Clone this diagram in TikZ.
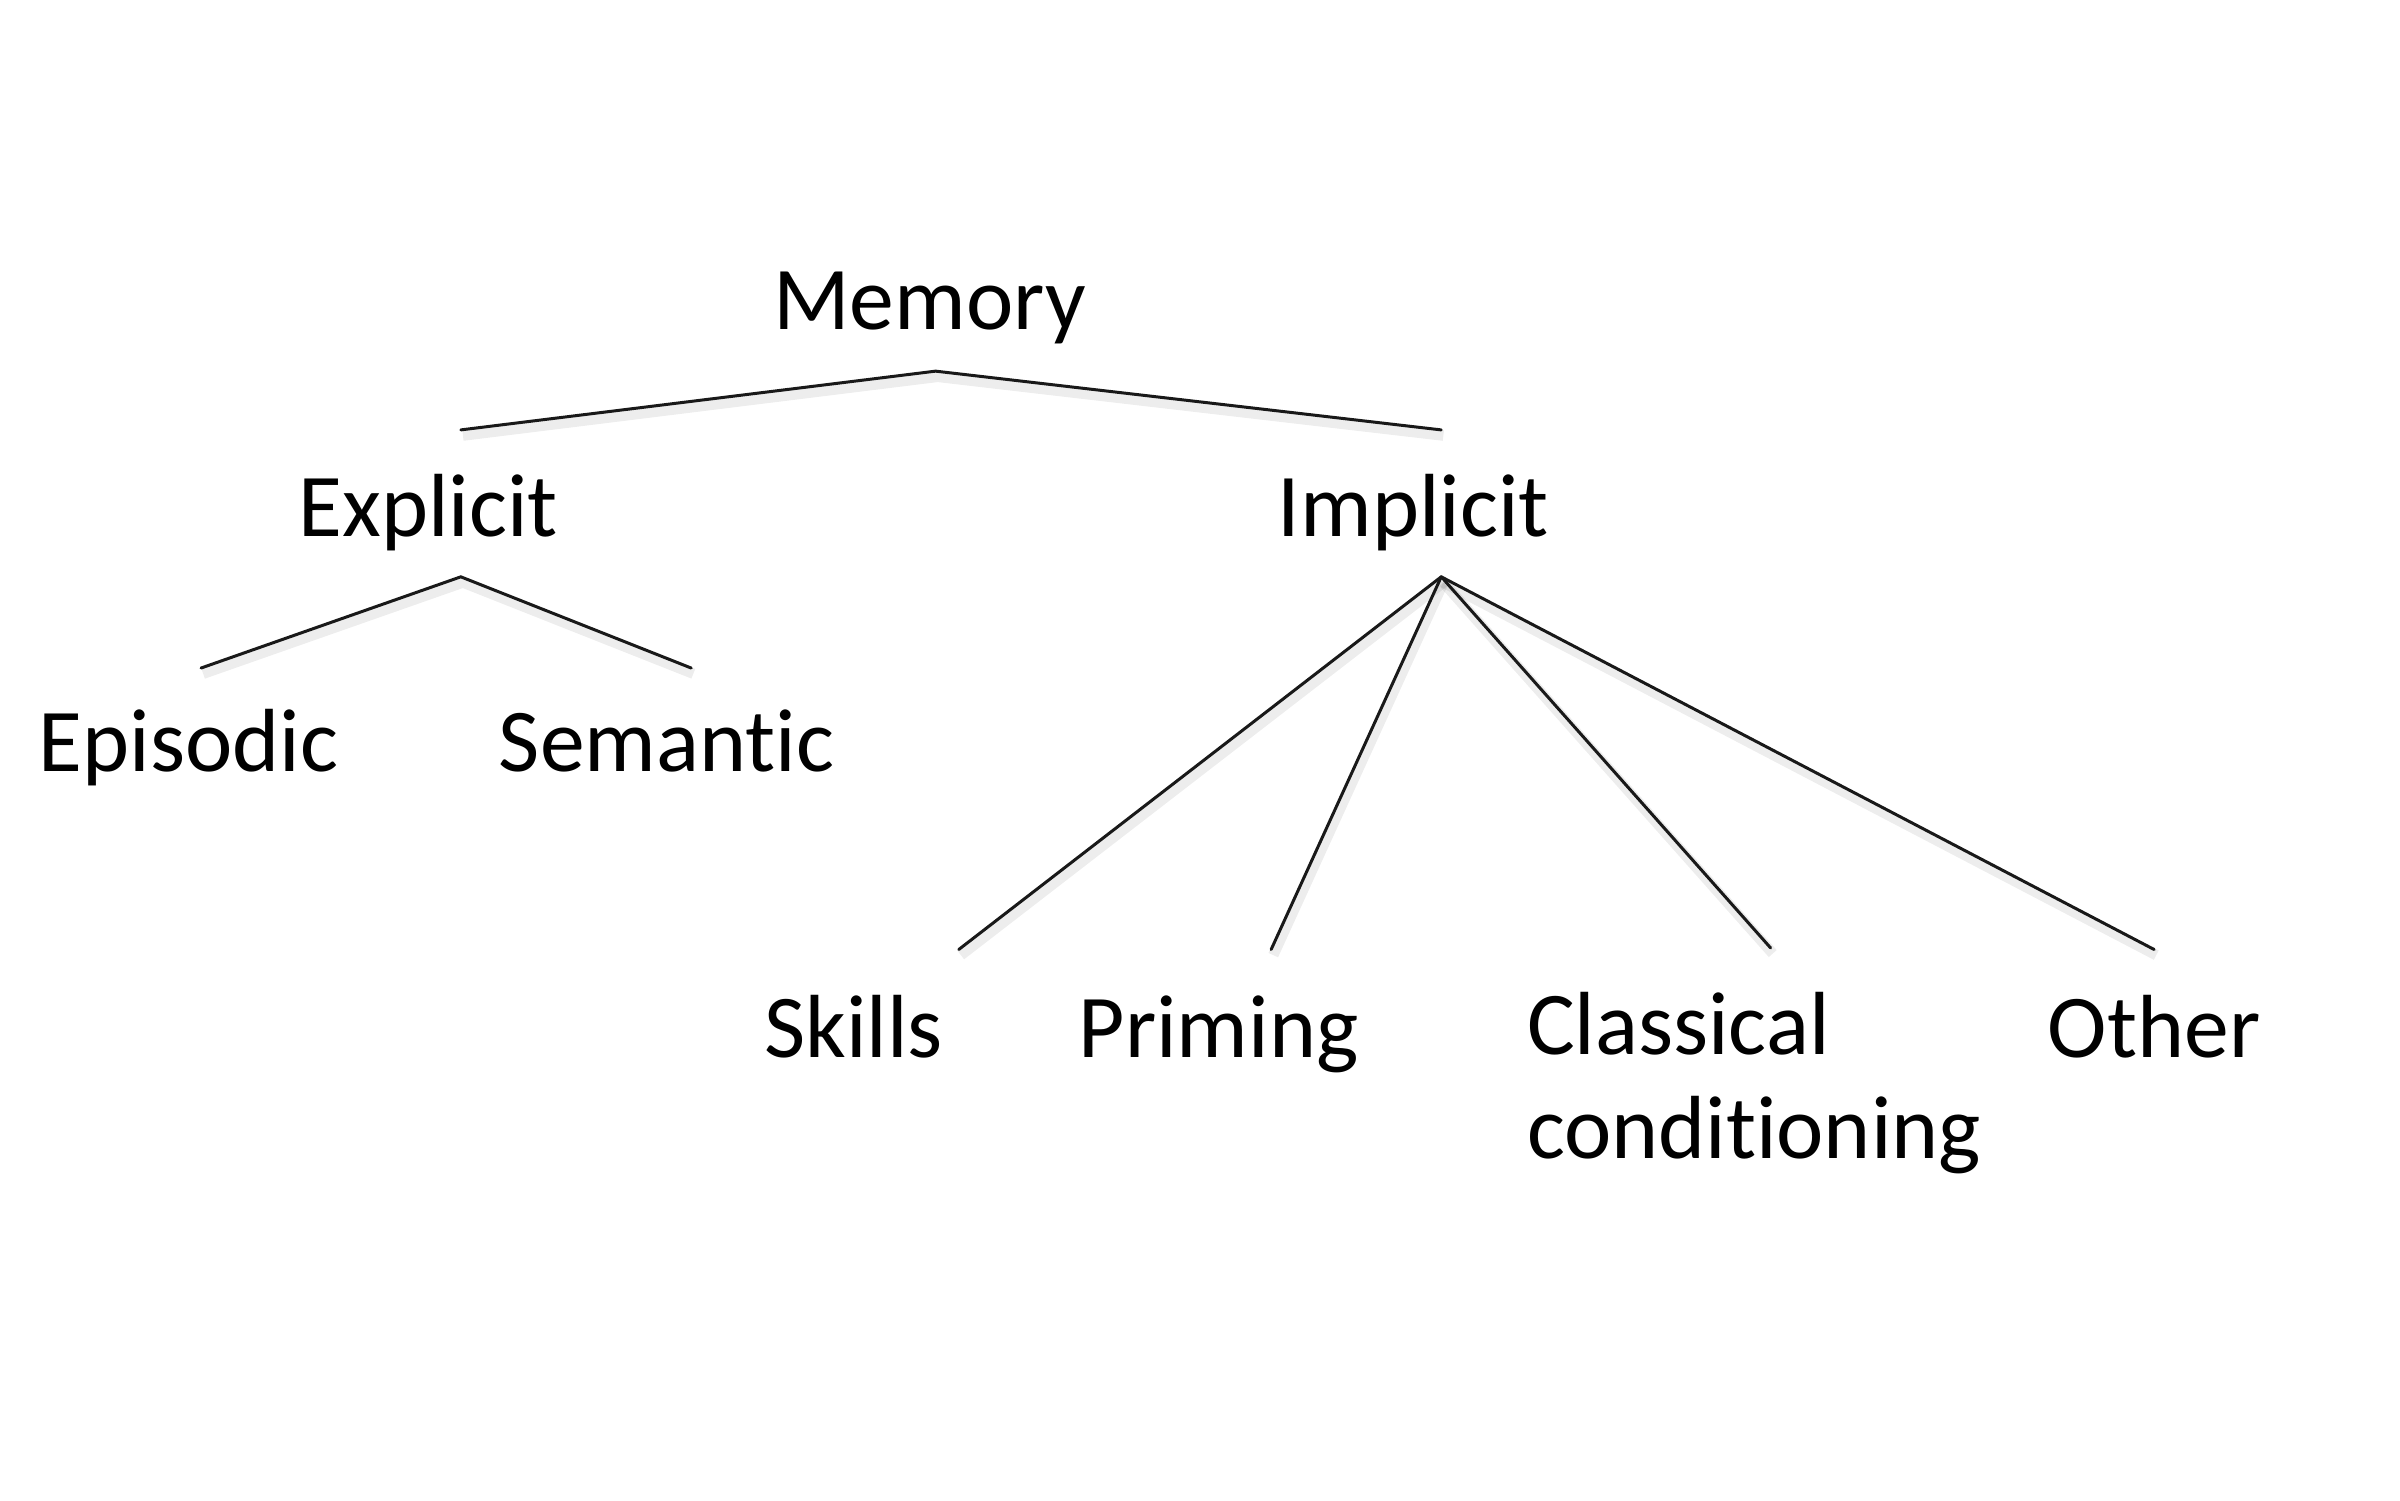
\documentclass[tikz,border=0pt]{standalone}
\usepackage{fontspec}
\setmainfont{Carlito}[RawFeature={-liga}]
\begin{document}
\begin{tikzpicture}[x=0.01546cm,y=-0.01546cm,
  lbl/.style={inner sep=0pt,anchor=base,font=\fontsize{25.5pt}{29.5pt}\selectfont},
  conn/.style={line width=0.85pt,black!90,line cap=round,
    preaction={draw,black,opacity=0.07,line width=3pt,transform canvas={xshift=0.6pt,yshift=-1.6pt}}}]
\useasboundingbox[fill=white] (0,0) rectangle (1552,970.2);
% labels
\node[lbl] (mem) at (601,213) {Memory};
\node[lbl] (exp) at (277,347) {Explicit};
\node[lbl] (imp) at (914,347) {Implicit};
\node[lbl] (epi) at (122,499) {Episodic};
\node[lbl] (sem) at (431,499) {Semantic};
\node[lbl] (ski) at (552,684) {Skills};
\node[lbl] (pri) at (788,684) {Priming};
\node[lbl,anchor=base west] (cla) at (987,682) {\begin{tabular}[t]{@{}l@{}}Classical\\conditioning\end{tabular}};
\node[lbl] (oth) at (1393,684) {Other};
% connector points
\coordinate (memA) at (605,240);
\coordinate (expT) at (298,278);
\coordinate (impT) at (932,278);
\coordinate (expA) at (298,373);
\coordinate (epiT) at (130,432);
\coordinate (semT) at (447,432);
\coordinate (impA) at (932,373);
\coordinate (skiT) at (620,614);
\coordinate (priT) at (822,614);
\coordinate (claT) at (1145,613);
\coordinate (othT) at (1393,614);
% connectors
\draw[conn] (expT) -- (memA) -- (impT);
\draw[conn] (epiT) -- (expA) -- (semT);
\draw[conn] (impA) -- (skiT);
\draw[conn] (impA) -- (priT);
\draw[conn] (impA) -- (claT);
\draw[conn] (impA) -- (othT);
\end{tikzpicture}
\end{document}
